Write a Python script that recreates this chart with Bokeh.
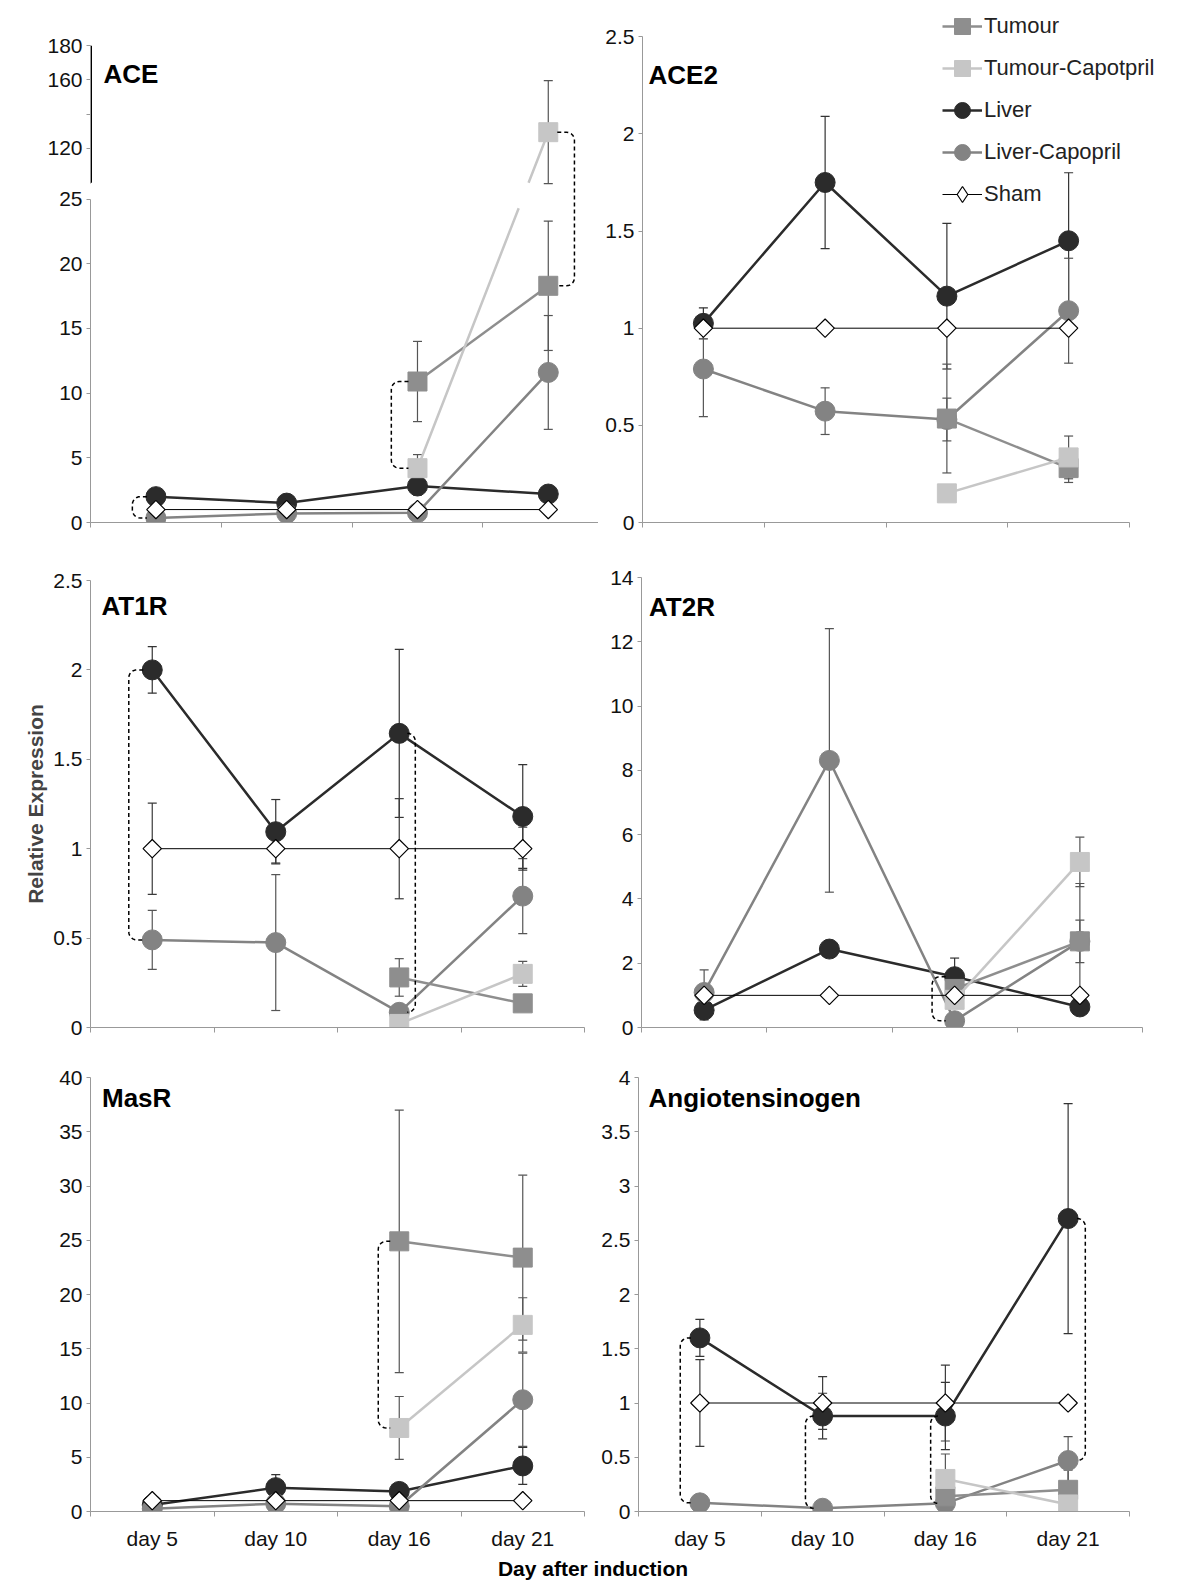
import numpy as np
from bokeh.plotting import figure
from bokeh.layouts import column, row
from bokeh.models import (Range1d, FixedTicker, Label, Legend, LegendItem,
                          NumeralTickFormatter)
from bokeh.embed import file_html
from bokeh.resources import INLINE

nan = float("nan")

# ---------------------------------------------------------------- data
days = ["day 5", "day 10", "day 16", "day 21"]
series = ["Tumour", "Tumour-Capotpril", "Liver", "Liver-Capopril", "Sham"]

# ACE (Tumour-Capotpril day 21 sits on the upper, broken part of the axis)
ace_tumour = [nan, nan, 10.9, 18.3]
ace_tumour_err = [nan, nan, 3.1, 5.0]
ace_tumour_cap = [nan, nan, 4.2, 129.5]
ace_tumour_cap_err = [nan, nan, 1.05, 30.0]
ace_liver = [2.0, 1.5, 2.82, 2.2]
ace_liver_err = [0.0, 0.0, 0.7, 0.4]
ace_liver_cap = [0.35, 0.7, 0.75, 11.6]
ace_liver_cap_err = [0.0, 0.0, 0.0, 4.4]
ace_sham = [1, 1, 1, 1]
ace_sham_err = [0, 0, 0, 0]
ace_lower_ticks = [0, 5, 10, 15, 20, 25]
ace_upper_ticks = [120, 140, 160, 180]
ace_upper_labels = ["120", "", "160", "180"]

# ACE2
ace2_tumour = [nan, nan, 0.535, 0.28]
ace2_tumour_err = [nan, nan, 0.28, 0.074]
ace2_tumour_cap = [nan, nan, 0.15, 0.335]
ace2_tumour_cap_err = [nan, nan, 0.0, 0.11]
ace2_liver = [1.025, 1.75, 1.165, 1.45]
ace2_liver_err = [0.08, 0.34, 0.375, 0.35]
ace2_liver_cap = [0.79, 0.573, 0.53, 1.09]
ace2_liver_cap_err = [0.245, 0.12, 0.11, 0.27]
ace2_sham = [1, 1, 1, 1]
ace2_sham_err = [0, 0, 0, 0]

# AT1R
at1r_tumour = [nan, nan, 0.28, 0.135]
at1r_tumour_err = [nan, nan, 0.105, 0.0]
at1r_tumour_cap = [nan, nan, 0.02, 0.3]
at1r_tumour_cap_err = [nan, nan, 0.0, 0.07]
at1r_liver = [2.0, 1.095, 1.645, 1.18]
at1r_liver_err = [0.13, 0.18, 0.47, 0.29]
at1r_liver_cap = [0.49, 0.475, 0.085, 0.735]
at1r_liver_cap_err = [0.165, 0.38, 0.0, 0.21]
at1r_sham = [1, 1, 1, 1]
at1r_sham_err = [0.255, 0.08, 0.28, 0.12]

# AT2R
at2r_tumour = [nan, nan, 1.2, 2.68]
at2r_tumour_err = [nan, nan, 0.0, 0.66]
at2r_tumour_cap = [nan, nan, 0.86, 5.15]
at2r_tumour_cap_err = [nan, nan, 0.0, 0.77]
at2r_liver = [0.54, 2.44, 1.58, 0.64]
at2r_liver_err = [0.3, 0.0, 0.58, 0.2]
at2r_liver_cap = [1.09, 8.31, 0.21, 2.68]
at2r_liver_cap_err = [0.7, 4.1, 0.0, 1.8]
at2r_sham = [1, 1, 1, 1]
at2r_sham_err = [0, 0, 0, 0]

# MasR
masr_tumour = [nan, nan, 24.9, 23.4]
masr_tumour_err = [nan, nan, 12.1, 7.6]
masr_tumour_cap = [nan, nan, 7.7, 17.2]
masr_tumour_cap_err = [nan, nan, 2.9, 2.5]
masr_liver = [0.6, 2.2, 1.85, 4.2]
masr_liver_err = [0.0, 1.2, 0.0, 1.7]
masr_liver_cap = [0.25, 0.72, 0.48, 10.3]
masr_liver_cap_err = [0.0, 0.0, 0.0, 4.3]
masr_sham = [1, 1, 1, 1]
masr_sham_err = [0, 0, 0, 0]

# Angiotensinogen
agt_tumour = [nan, nan, 0.14, 0.2]
agt_tumour_err = [nan, nan, 0.39, 0.18]
agt_tumour_cap = [nan, nan, 0.3, 0.065]
agt_tumour_cap_err = [nan, nan, 0.0, 0.0]
agt_liver = [1.6, 0.88, 0.88, 2.7]
agt_liver_err = [0.17, 0.21, 0.31, 1.06]
agt_liver_cap = [0.08, 0.03, 0.075, 0.47]
agt_liver_cap_err = [0.0, 0.0, 0.0, 0.22]
agt_sham = [1, 1, 1, 1]
agt_sham_err = [0.4, 0.244, 0.35, 0.0]

# significance brackets: (day index 1..4, upper series, lower series, side)
ace_brackets = [(1, "Liver", "Liver-Capopril", -1),
                (3, "Tumour", "Tumour-Capotpril", -1),
                (4, "Tumour-Capotpril", "Tumour", 1)]
at1r_brackets = [(1, "Liver", "Liver-Capopril", -1),
                 (3, "Liver", "Liver-Capopril", 1)]
at2r_brackets = [(3, "Liver", "Liver-Capopril", -1)]
masr_brackets = [(3, "Tumour", "Tumour-Capotpril", -1)]
agt_brackets = [(1, "Liver", "Liver-Capopril", -1),
                (2, "Liver", "Liver-Capopril", -1),
                (3, "Liver", "Liver-Capopril", -1),
                (4, "Liver", "Liver-Capopril", 1)]

# ---------------------------------------------------------------- styles
FONT = "Liberation Sans"
STY = {
    "Tumour": dict(marker="square", fill="#8e8e8e", line="#8e8e8e", size=19, lw=2.5, err="#555555", angle=0),
    "Tumour-Capotpril": dict(marker="square", fill="#c6c6c6", line="#c6c6c6", size=19, lw=2.5, err="#555555", angle=0),
    "Liver": dict(marker="circle", fill="#2b2b2b", line="#2b2b2b", size=20, lw=2.5, err="#333333", angle=0),
    "Liver-Capopril": dict(marker="circle", fill="#838383", line="#838383", size=20, lw=2.5, err="#555555", angle=0),
    "Sham": dict(marker="square", fill="white", line="black", size=13, lw=1.0, err="#3a3a3a", angle=np.pi / 4),
}
DRAW_ORDER = ["Liver", "Liver-Capopril", "Tumour", "Tumour-Capotpril", "Sham"]

# ACE broken axis: values above 25 are placed on a compressed upper scale
ACE_GAP_LOW = 24.3
ACE_UPPER_BASE = 26.26      # visual position of 100
ACE_UPPER_SCALE = 0.1327    # visual units per upper-axis unit


def ace_vis(v):
    if v != v:
        return v
    return v if v <= 25 else ACE_UPPER_BASE + (v - 100) * ACE_UPPER_SCALE


def identity(v):
    return v


def make_panel(title, vals, errs, cfg, brackets, transform=identity, gap=None):
    fw = cfg["w"] - cfg["bl"] - cfg["br"]
    fh = cfg["h"] - cfg["bt"] - cfg["bb"]
    xr = cfg.get("xr", (0.5, 4.5))
    p = figure(width=cfg["w"], height=cfg["h"], x_range=Range1d(*xr),
               y_range=Range1d(*cfg["yr"]), output_backend="svg",
               toolbar_location=None, min_border_left=cfg["bl"],
               min_border_right=cfg["br"], min_border_top=cfg["bt"],
               min_border_bottom=cfg["bb"], frame_align=False)
    p.xgrid.visible = False
    p.ygrid.visible = False
    p.outline_line_color = None

    # x axis : labels at category centres, tick marks between categories
    xa = p.xaxis[0]
    if cfg.get("xlabels"):
        xa.ticker = FixedTicker(ticks=[1, 2, 3, 4], minor_ticks=[0.5, 1.5, 2.5, 3.5, 4.5])
        xa.major_label_overrides = {i + 1: d for i, d in enumerate(days)}
    else:
        xa.ticker = FixedTicker(ticks=[], minor_ticks=[0.5, 1.5, 2.5, 3.5, 4.5])
    xa.bounds = (0.5, 4.5)
    xa.major_tick_out = 0
    xa.major_tick_in = 0
    xa.minor_tick_out = 5
    xa.minor_tick_in = 0
    xa.minor_tick_line_color = "#999999"
    xa.axis_line_color = "#999999"
    xa.major_label_standoff = 10
    xa.major_label_text_font = FONT
    xa.major_label_text_color = "#111111"
    xa.major_label_text_font_size = "21px"

    ya = p.yaxis[0]
    ya.axis_line_color = "#999999"
    ya.major_tick_line_color = "#999999"
    ya.major_tick_out = 4
    ya.major_tick_in = 0
    ya.minor_tick_line_color = None
    ya.major_label_standoff = 4
    ya.major_label_text_font = FONT
    ya.major_label_text_font_size = "21px"
    ya.major_label_text_color = "#111111"
    ya.formatter = NumeralTickFormatter(format="0.[0]")
    ya.ticker = FixedTicker(ticks=cfg["ticks"])
    ya.bounds = cfg.get("ybounds", (cfg["ticks"][0], cfg["ticks"][-1]))
    if "yoverrides" in cfg:
        ya.major_label_overrides = cfg["yoverrides"]
    if "ydash" in cfg:
        ya.axis_line_dash = cfg["ydash"]

    xs = [1, 2, 3, 4]
    # error bars
    for s in DRAW_ORDER:
        st = STY[s]
        ex, lo, hi = [], [], []
        for x, v, e in zip(xs, vals[s], errs[s]):
            if v == v and e == e and e > 0:
                ex.append(x)
                lo.append(transform(v - e))
                hi.append(transform(v + e))
        if ex:
            p.segment(x0=ex, y0=lo, x1=ex, y1=hi, line_color=st["err"], line_width=1.2)
            p.scatter(x=ex + ex, y=lo + hi, marker="dash", size=9,
                      line_color=st["err"], line_width=1.2)

    rends = {}
    for s in DRAW_ORDER:
        st = STY[s]
        ys = [transform(v) for v in vals[s]]
        lx, ly = [], []
        for i, (x, y) in enumerate(zip(xs, ys)):
            if i > 0 and gap is not None:
                y0 = ly[-1] if ly else nan
                if y0 == y0 and y == y and y0 < gap[0] and y > gap[1]:
                    x0 = lx[-1]
                    xa_ = x0 + (gap[0] - y0) / (y - y0) * (x - x0)
                    xb_ = x0 + (gap[1] - y0) / (y - y0) * (x - x0)
                    lx += [xa_, nan, xb_]
                    ly += [gap[0], nan, gap[1]]
            lx.append(x)
            ly.append(y)
        lr = p.line(lx, ly, line_color=st["line"] if s != "Sham" else "black",
                    line_width=st["lw"])
        sr = p.scatter(xs, ys, marker=st["marker"], size=st["size"], angle=st["angle"],
                       fill_color=st["fill"], line_color=st["line"],
                       line_width=1.2 if s == "Sham" else 1)
        rends[s] = (lr, sr)

    # significance brackets
    kx = fw / (xr[1] - xr[0])
    ky = fh / (cfg["yr"][1] - cfg["yr"][0])
    for (di, top_s, bot_s, side) in brackets:
        yt = transform(vals[top_s][di - 1])
        yb = transform(vals[bot_s][di - 1])
        off = cfg["boff"].get((di, side), 0.18)
        D = off * kx
        r = min(8.0, D / 2.0, (yt - yb) * ky / 2.0)
        start = min(9.0, D - r)
        xv = di + side * off
        cx = xv - side * r / kx
        bx = [di + side * start / kx]
        by = [yt]
        for a in np.linspace(0, np.pi / 2, 8):
            bx.append(cx + side * np.sin(a) * r / kx)
            by.append(yt - r / ky + np.cos(a) * r / ky)
        for a in np.linspace(np.pi / 2, 0, 8):
            bx.append(cx + side * np.sin(a) * r / kx)
            by.append(yb + r / ky - np.cos(a) * r / ky)
        bx.append(di + side * start / kx)
        by.append(yb)
        p.line(bx, by, line_color="black", line_width=1.5, line_dash="4 3")

    p.add_layout(Label(x=cfg["tx"], y=fh - cfg["ty"], x_units="screen", y_units="screen",
                       text=title, text_font=FONT, text_font_style="bold",
                       text_font_size="26px", text_baseline="middle", text_align="left",
                       text_color="black"))
    return p, rends


def pack(prefix):
    g = globals()
    keys = {"Tumour": "tumour", "Tumour-Capotpril": "tumour_cap", "Liver": "liver",
            "Liver-Capopril": "liver_cap", "Sham": "sham"}
    vals = {s: g[f"{prefix}_{k}"] for s, k in keys.items()}
    errs = {s: g[f"{prefix}_{k}_err"] for s, k in keys.items()}
    return vals, errs


# ---------------------------------------------------------------- panels
# ACE: one axis carries both parts; dash pattern leaves the break in its line
ACE_FH = 477
ace_top = ace_vis(180)
ace_pxu = ACE_FH / ace_top
up_ticks = [round(ace_vis(t), 4) for t in ace_upper_ticks]
ace_dash = "%d %d %d" % (round(25 * ace_pxu), round((ACE_UPPER_BASE - 25) * ace_pxu),
                         round((ace_top - ACE_UPPER_BASE) * ace_pxu) + 20)
v, e = pack("ace")
p_ace, _ = make_panel("ACE", v, e,
                      dict(w=598, h=556, bl=90, br=0, bt=45, bb=34, xr=(0.5, 4.384),
                           yr=(0, ace_top), ticks=ace_lower_ticks + up_ticks,
                           ybounds=(0, ace_top),
                           yoverrides={t: lab for t, lab in zip(up_ticks, ace_upper_labels)},
                           ydash=ace_dash,
                           tx=13, ty=28.5, boff={(1, -1): 0.18, (3, -1): 0.2, (4, 1): 0.2}),
                      ace_brackets, transform=ace_vis, gap=(ACE_GAP_LOW, ACE_UPPER_BASE))
# heavier upper part of the broken axis
p_ace.segment(x0=[0.5], y0=[ace_vis(100)], x1=[0.5], y1=[ace_vis(180)],
              line_color="black", line_width=3)

v, e = pack("ace2")
p_ace2, r_ace2 = make_panel("ACE2", v, e,
                            dict(w=594, h=556, bl=44, br=0, bt=0, bb=34,
                                 xr=(0.5, 0.5 + 550 / 121.75), yr=(0, 522 / 194.3),
                                 ticks=[0, 0.5, 1, 1.5, 2, 2.5], tx=6, ty=74, boff={}),
                            [])

v, e = pack("at1r")
p_at1r, _ = make_panel("AT1R", v, e,
                       dict(w=598, h=501, bl=90, br=14, bt=24, bb=30, yr=(0, 2.5),
                            ticks=[0, 0.5, 1, 1.5, 2, 2.5], tx=11, ty=25,
                            boff={(1, -1): 0.19, (3, 1): 0.13}),
                       at1r_brackets)
p_at1r.yaxis[0].axis_label = "Relative Expression"
p_at1r.yaxis[0].axis_label_text_font = FONT
p_at1r.yaxis[0].axis_label_text_font_style = "bold"
p_at1r.yaxis[0].axis_label_text_font_size = "21px"
p_at1r.yaxis[0].axis_label_standoff = 3

v, e = pack("at2r")
p_at2r, _ = make_panel("AT2R", v, e,
                       dict(w=594, h=501, bl=43, br=50, bt=21, bb=30, yr=(0, 14),
                            ticks=[0, 2, 4, 6, 8, 10, 12, 14], tx=7.5, ty=29.5,
                            boff={(3, -1): 0.18}),
                       at2r_brackets)

v, e = pack("masr")
p_masr, _ = make_panel("MasR", v, e,
                       dict(w=598, h=495, bl=90, br=14, bt=20, bb=38, yr=(0, 40),
                            ticks=[0, 5, 10, 15, 20, 25, 30, 35, 40], tx=11.5, ty=23,
                            xlabels=True, boff={(3, -1): 0.17}),
                       masr_brackets)

v, e = pack("agt")
p_agt, _ = make_panel("Angiotensinogen", v, e,
                      dict(w=594, h=495, bl=40, br=63, bt=20, bb=38, yr=(0, 4),
                           ticks=[0, 0.5, 1, 1.5, 2, 2.5, 3, 3.5, 4], tx=10, ty=23,
                           xlabels=True,
                           boff={(1, -1): 0.16, (2, -1): 0.14, (3, -1): 0.12, (4, 1): 0.14}),
                      agt_brackets)

# legend (top right, partly above the ACE2 axis); the Sham key uses a diamond glyph
sham_key = p_ace2.scatter(x=[nan], y=[nan], marker="diamond", size=16,
                          fill_color="white", line_color="black", line_width=1.2)
legend_renderers = {s: list(r_ace2[s]) for s in series}
legend_renderers["Sham"] = [r_ace2["Sham"][0], sham_key]
legend = Legend(items=[LegendItem(label=s, renderers=legend_renderers[s]) for s in series],
                location=(300, 307), orientation="vertical",
                glyph_width=40, glyph_height=42, label_height=42, spacing=0,
                padding=0, margin=0, label_standoff=2,
                label_text_font=FONT, label_text_font_size="22px",
                label_text_color="#222222", border_line_color=None,
                background_fill_alpha=0)
p_ace2.add_layout(legend)

# bottom strip carrying the shared x-axis title
p_bottom = figure(width=1192, height=32, x_range=Range1d(0, 1), y_range=Range1d(0, 1),
                  output_backend="svg", toolbar_location=None, min_border_left=0,
                  min_border_right=0, min_border_top=0, min_border_bottom=0,
                  frame_align=False)
p_bottom.axis.visible = False
p_bottom.xgrid.visible = False
p_bottom.ygrid.visible = False
p_bottom.outline_line_color = None
p_bottom.add_layout(Label(x=592.5, y=15.7, x_units="screen", y_units="screen",
                          text="Day after induction", text_font=FONT,
                          text_font_style="bold", text_font_size="21px",
                          text_align="center", text_baseline="middle", text_color="black"))

layout = column(row(p_ace, p_ace2), row(p_at1r, p_at2r), row(p_masr, p_agt), p_bottom)

open("out.html", "w").write(file_html(layout, INLINE))
